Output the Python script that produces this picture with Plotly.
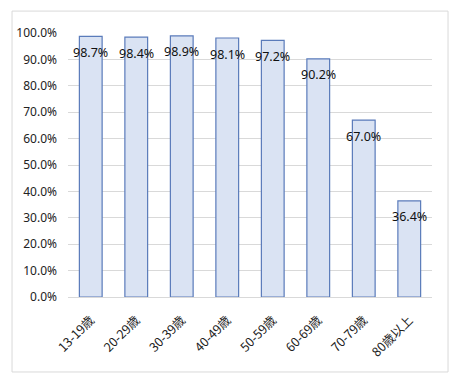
import plotly.graph_objects as go

categories = ["13-19歳", "20-29歳", "30-39歳", "40-49歳", "50-59歳", "60-69歳", "70-79歳", "80歳以上"]
values = [0.987, 0.984, 0.989, 0.981, 0.972, 0.902, 0.670, 0.364]
labels = ["98.7%", "98.4%", "98.9%", "98.1%", "97.2%", "90.2%", "67.0%", "36.4%"]

num_font = "Noto Sans, sans-serif"
cjk_font = "Noto Sans CJK JP, Noto Sans, sans-serif"

fig = go.Figure(go.Bar(
    x=categories,
    y=values,
    marker=dict(color="#dae3f3", line=dict(color="#5a7bba", width=1.2)),
    hoverinfo="skip",
))

annotations = [
    dict(x=c, y=v, text=t, xref="x", yref="y", showarrow=False, yshift=-16,
         font=dict(family=num_font, size=12.5, color="#111111"))
    for c, v, t in zip(categories, values, labels)
]

fig.update_layout(
    width=449, height=373,
    margin=dict(l=60, r=25, t=25, b=84),
    paper_bgcolor="white", plot_bgcolor="white",
    bargap=0.5,
    showlegend=False,
    font=dict(family=num_font, size=12, color="#222222"),
    annotations=annotations,
    shapes=[dict(type="rect", xref="paper", yref="paper",
                 x0=-0.1538, x1=1.044, y0=-0.284, y1=1.083,
                 line=dict(color="#d9d9d9", width=1), fillcolor="rgba(0,0,0,0)", layer="below")],
)
fig.update_yaxes(range=[0, 1.0], dtick=0.1, tickformat=".1%", gridcolor="#d9d9d9",
                 zeroline=False, showline=False, ticks="", ticklabelstandoff=10,
                 automargin=False,
                 tickfont=dict(family=num_font, size=12, color="#222222"))
fig.update_xaxes(tickangle=-45, showline=True, linecolor="#d9d9d9", ticks="",
                 automargin=False, ticklabelstandoff=10,
                 tickfont=dict(family=cjk_font, size=12.5, color="#222222"))

fig.write_html("out.html")
